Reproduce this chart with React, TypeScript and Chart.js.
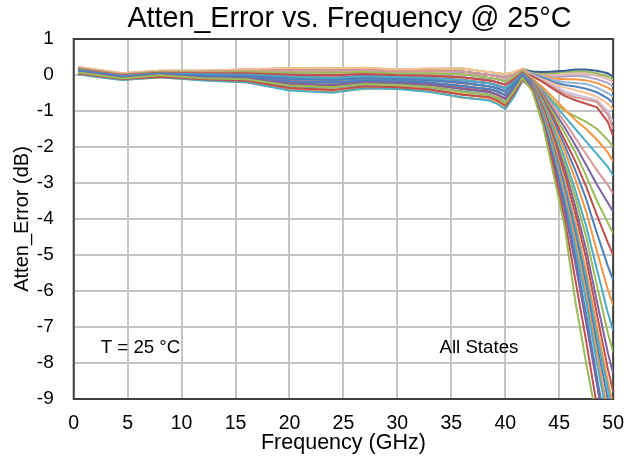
import React, { useEffect, useRef } from "react";
import { Chart, registerables } from "chart.js";

Chart.register(...registerables);

const titleText = "Atten_Error vs. Frequency @ 25°C";
const xTitle = "Frequency (GHz)";
const yTitle = "Atten_Error (dB)";
const tempNote = "T = 25 °C";
const statesNote = "All States";

const freqGHz = [0.4, 2, 4.5, 8, 12, 16, 20, 24, 27, 30, 33, 36, 38.5, 39.3, 40, 40.8, 41.6, 42.5, 43.5, 44.5, 45.5, 46.5, 47.5, 48.5, 49.5, 50];

const state01 = [0.07, 0.01, -0.10, -0.01, -0.09, -0.12, -0.29, -0.34, -0.25, -0.28, -0.33, -0.47, -0.55, -0.65, -0.78, -0.45, -0.08, -0.45, -1.4, -2.8, -4.2, -6.3, -8.0, -9.6, -11.5, -12.5];
const state02 = [0.04, -0.02, -0.11, -0.05, -0.12, -0.16, -0.36, -0.42, -0.31, -0.34, -0.40, -0.55, -0.61, -0.71, -0.86, -0.52, -0.13, -0.4, -1.35, -2.6, -4.0, -5.7, -7.4, -9.2, -11.0, -12.0];
const state03 = [0.08, 0.03, -0.08, 0.01, -0.07, -0.09, -0.23, -0.28, -0.21, -0.22, -0.26, -0.39, -0.47, -0.54, -0.67, -0.41, -0.05, -0.38, -1.3, -2.45, -3.75, -5.25, -6.9, -8.6, -10.4, -11.3];
const state04 = [0.10, 0.05, -0.06, 0.02, -0.04, -0.07, -0.18, -0.20, -0.15, -0.16, -0.21, -0.31, -0.39, -0.45, -0.55, -0.34, -0.02, -0.36, -1.25, -2.35, -3.6, -5.05, -6.65, -8.4, -10.1, -11.0];
const state05 = [0.02, -0.05, -0.14, -0.06, -0.15, -0.20, -0.43, -0.49, -0.37, -0.39, -0.47, -0.62, -0.71, -0.81, -0.95, -0.61, -0.16, -0.35, -1.2, -2.25, -3.45, -4.8, -6.3, -8.0, -9.6, -10.4];
const state06 = [0.05, -0.01, -0.12, -0.03, -0.11, -0.17, -0.37, -0.40, -0.33, -0.32, -0.41, -0.53, -0.63, -0.73, -0.84, -0.54, -0.11, -0.33, -1.15, -2.15, -3.3, -4.6, -6.1, -7.75, -9.35, -10.2];
const state07 = [0.12, 0.06, -0.05, 0.03, -0.01, -0.02, -0.10, -0.14, -0.09, -0.12, -0.14, -0.21, -0.31, -0.38, -0.46, -0.25, 0.01, -0.32, -1.1, -2.05, -3.15, -4.4, -5.85, -7.5, -9.0, -9.8];
const state08 = [0.06, 0.00, -0.11, -0.02, -0.10, -0.14, -0.31, -0.36, -0.27, -0.26, -0.34, -0.46, -0.55, -0.64, -0.77, -0.47, -0.10, -0.3, -1.05, -2.0, -3.05, -4.25, -5.65, -7.25, -8.7, -9.5];
const state09 = [0.03, -0.04, -0.13, -0.07, -0.14, -0.21, -0.41, -0.47, -0.38, -0.37, -0.45, -0.63, -0.69, -0.79, -0.94, -0.59, -0.14, -0.3, -1.0, -1.9, -2.95, -4.1, -5.45, -7.0, -8.5, -9.2];
const state10 = [0.08, 0.02, -0.08, 0.00, -0.06, -0.10, -0.25, -0.29, -0.20, -0.23, -0.27, -0.37, -0.46, -0.56, -0.66, -0.40, -0.05, -0.28, -0.95, -1.8, -2.75, -3.85, -5.1, -6.65, -8.15, -8.8];
const state11 = [0.11, 0.04, -0.06, 0.01, -0.03, -0.06, -0.17, -0.21, -0.16, -0.17, -0.22, -0.30, -0.40, -0.46, -0.57, -0.33, -0.03, -0.25, -0.9, -1.7, -2.6, -3.65, -4.85, -6.3, -7.7, -8.3];
const state12 = [0.04, -0.02, -0.13, -0.04, -0.13, -0.18, -0.35, -0.41, -0.31, -0.33, -0.39, -0.54, -0.62, -0.71, -0.85, -0.53, -0.12, -0.25, -0.85, -1.6, -2.45, -3.4, -4.5, -5.85, -7.15, -7.7];
const state13 = [0.14, 0.07, -0.03, 0.04, 0.02, 0.01, -0.05, -0.08, -0.04, -0.06, -0.09, -0.14, -0.23, -0.29, -0.37, -0.19, 0.04, -0.22, -0.8, -1.5, -2.3, -3.2, -4.2, -5.4, -6.6, -7.1];
const state14 = [0.06, 0.01, -0.10, -0.02, -0.08, -0.13, -0.30, -0.35, -0.26, -0.27, -0.32, -0.45, -0.54, -0.62, -0.75, -0.46, -0.09, -0.2, -0.75, -1.4, -2.1, -2.9, -3.8, -4.9, -5.95, -6.4];
const state15 = [0.12, 0.05, -0.04, 0.03, -0.01, -0.03, -0.11, -0.13, -0.09, -0.11, -0.15, -0.22, -0.31, -0.37, -0.45, -0.26, 0.01, -0.2, -0.7, -1.3, -1.95, -2.65, -3.45, -4.4, -5.3, -5.7];
const state16 = [0.16, 0.09, -0.01, 0.06, 0.05, 0.05, 0.01, -0.01, 0.03, -0.01, -0.02, -0.06, -0.15, -0.21, -0.27, -0.12, 0.07, -0.18, -0.65, -1.2, -1.8, -2.4, -3.1, -3.9, -4.65, -5.0];
const state17 = [0.10, 0.04, -0.07, 0.01, -0.04, -0.06, -0.19, -0.22, -0.15, -0.18, -0.21, -0.31, -0.39, -0.47, -0.56, -0.32, -0.02, -0.15, -0.6, -1.1, -1.6, -2.15, -2.8, -3.5, -4.1, -4.4];
const state18 = [0.14, 0.08, -0.03, 0.05, 0.02, 0.02, -0.06, -0.08, -0.03, -0.07, -0.08, -0.15, -0.23, -0.30, -0.37, -0.19, 0.04, -0.15, -0.55, -1.0, -1.45, -1.95, -2.5, -3.05, -3.55, -3.8];
const state19 = [0.16, 0.09, -0.01, 0.06, 0.05, 0.04, 0.01, -0.02, 0.03, -0.02, -0.02, -0.07, -0.15, -0.21, -0.27, -0.12, 0.07, -0.12, -0.5, -0.9, -1.3, -1.75, -2.2, -2.65, -3.05, -3.3];
const state20 = [0.08, 0.02, -0.09, 0.00, -0.07, -0.11, -0.24, -0.28, -0.19, -0.22, -0.28, -0.38, -0.47, -0.55, -0.65, -0.40, -0.05, -0.12, -0.45, -0.8, -1.15, -1.5, -1.85, -2.2, -2.55, -2.8];
const state21 = [0.12, 0.05, -0.05, 0.03, -0.02, -0.02, -0.12, -0.15, -0.09, -0.11, -0.14, -0.23, -0.32, -0.37, -0.47, -0.26, 0.01, -0.1, -0.35, -0.65, -0.95, -1.25, -1.5, -1.8, -2.15, -2.4];
const state22 = [0.18, 0.11, 0.01, 0.08, 0.07, 0.09, 0.07, 0.06, 0.08, 0.04, 0.05, 0.02, -0.08, -0.12, -0.17, -0.06, 0.11, -0.1, -0.4, -0.75, -1.0, -1.15, -1.3, -1.5, -1.8, -2.0];
const state23 = [0.14, 0.07, -0.03, 0.05, 0.03, 0.02, -0.05, -0.07, -0.03, -0.06, -0.08, -0.13, -0.22, -0.29, -0.36, -0.18, 0.04, -0.03, -0.2, -0.4, -0.58, -0.7, -0.8, -0.9, -1.3, -1.7];
const state24 = [0.20, 0.13, 0.03, 0.10, 0.10, 0.12, 0.13, 0.12, 0.14, 0.10, 0.12, 0.10, 0.00, -0.04, -0.08, 0.01, 0.14, -0.02, -0.18, -0.35, -0.52, -0.62, -0.68, -0.75, -1.1, -1.5];
const state25 = [0.18, 0.11, 0.01, 0.08, 0.08, 0.09, 0.07, 0.07, 0.08, 0.05, 0.05, 0.02, -0.08, -0.12, -0.16, -0.06, 0.11, 0.0, -0.15, -0.3, -0.45, -0.55, -0.62, -0.7, -1.0, -1.3];
const state26 = [0.22, 0.15, 0.05, 0.12, 0.12, 0.16, 0.19, 0.19, 0.20, 0.15, 0.18, 0.18, 0.08, 0.05, 0.02, 0.08, 0.17, 0.0, -0.12, -0.25, -0.35, -0.42, -0.5, -0.6, -0.8, -0.95];
const state27 = [0.16, 0.09, -0.01, 0.06, 0.05, 0.05, 0.02, -0.01, 0.02, -0.01, -0.02, -0.06, -0.14, -0.20, -0.26, -0.12, 0.07, 0.02, -0.08, -0.2, -0.28, -0.32, -0.38, -0.48, -0.65, -0.78];
const state28 = [0.20, 0.13, 0.03, 0.10, 0.10, 0.12, 0.12, 0.12, 0.13, 0.10, 0.12, 0.10, 0.00, -0.04, -0.08, 0.01, 0.14, 0.04, -0.05, -0.15, -0.2, -0.22, -0.25, -0.35, -0.5, -0.6];
const state29 = [0.18, 0.11, 0.01, 0.08, 0.07, 0.08, 0.07, 0.06, 0.08, 0.04, 0.05, 0.03, -0.08, -0.12, -0.17, -0.06, 0.11, 0.05, -0.03, -0.1, -0.12, -0.12, -0.15, -0.22, -0.35, -0.45];
const state30 = [0.20, 0.13, 0.03, 0.10, 0.10, 0.12, 0.13, 0.12, 0.14, 0.10, 0.12, 0.10, 0.00, -0.04, -0.08, 0.01, 0.14, 0.1, 0.08, 0.1, 0.12, 0.15, 0.15, 0.12, 0.05, -0.05];
const state31 = [0.21, 0.15, 0.05, 0.12, 0.12, 0.15, 0.18, 0.19, 0.19, 0.15, 0.17, 0.18, 0.08, 0.05, 0.02, 0.08, 0.17, 0.1, 0.05, 0.05, 0.08, 0.1, 0.1, 0.05, -0.05, -0.12];
const state32 = [0.22, 0.15, 0.05, 0.12, 0.12, 0.16, 0.19, 0.19, 0.20, 0.15, 0.18, 0.18, 0.08, 0.05, 0.02, 0.08, 0.17, 0.08, 0.02, 0.0, 0.02, 0.05, 0.04, -0.02, -0.12, -0.2];
const state33 = [0.19, 0.13, 0.03, 0.10, 0.11, 0.12, 0.13, 0.13, 0.14, 0.10, 0.11, 0.10, 0.01, -0.04, -0.07, 0.01, 0.14, 0.06, 0.0, -0.05, -0.05, -0.02, -0.05, -0.12, -0.22, -0.32];

const stateSeries = [
  state01, state02, state03, state04, state05, state06, state07, state08, state09, state10, state11,
  state12, state13, state14, state15, state16, state17, state18, state19, state20, state21, state22,
  state23, state24, state25, state26, state27, state28, state29, state30, state31, state32, state33,
];

const stateColors = [
  "#9BBB59", "#C0504D", "#8064A2", "#4F81BD", "#4BACC6", "#F79646", "#4F81BD", "#4BACC6", "#F79646",
  "#C0504D", "#8064A2", "#9BBB59", "#4BACC6", "#F79646", "#4F81BD", "#C0504D", "#9BBB59", "#8064A2",
  "#D99694", "#4BACC6", "#F79646", "#9BBB59", "#C0504D", "#D99694", "#CCC1DA", "#FAC090", "#4F81BD",
  "#95B3D7", "#F79646", "#376092", "#9BBB59", "#E6B9B8", "#B3A2C7",
];

const FONT = '"Liberation Sans", Arial, sans-serif';

const overlayPlugin = {
  id: "overlayPlugin",
  beforeDatasetsDraw(chart: any) {
    const { ctx, chartArea: a } = chart;
    ctx.save();
    ctx.strokeStyle = "#404040";
    ctx.lineWidth = 2;
    ctx.strokeRect(a.left, a.top, a.right - a.left, a.bottom - a.top);
    ctx.restore();
  },
  afterDraw(chart: any) {
    const { ctx, chartArea: a } = chart;
    const xs = chart.scales.x;
    const ys = chart.scales.y;
    ctx.save();
    ctx.fillStyle = "#000000";
    ctx.textBaseline = "middle";
    ctx.textAlign = "center";
    ctx.font = `28.7px ${FONT}`;
    ctx.fillText(titleText, (a.left + a.right) / 2 + 6, 19.5);
    ctx.textAlign = "left";
    ctx.font = `18.7px ${FONT}`;
    ctx.fillText(tempNote, xs.getPixelForValue(2.5), ys.getPixelForValue(-7.57));
    ctx.fillText(statesNote, xs.getPixelForValue(33.9), ys.getPixelForValue(-7.57));
    ctx.restore();
  },
};

export default function App() {
  const canvasRef = useRef<HTMLCanvasElement | null>(null);

  useEffect(() => {
    if (!canvasRef.current) return;
    const datasets = stateSeries.map((vals, i) => ({
      label: `State ${i + 1}`,
      data: vals.map((v, j) => ({ x: freqGHz[j], y: v })),
      borderColor: stateColors[i],
      backgroundColor: stateColors[i],
      borderWidth: 2,
      pointRadius: 0,
      tension: 0,
      fill: false,
    }));
    const chart = new Chart(canvasRef.current, {
      type: "line",
      data: { datasets },
      options: {
        animation: false,
        responsive: false,
        devicePixelRatio: 1,
        layout: { padding: { top: 39, right: 11.5, bottom: 0, left: 0 } },
        plugins: { legend: { display: false }, tooltip: { enabled: false }, title: { display: false } },
        scales: {
          x: {
            type: "linear",
            min: 0,
            max: 50,
            afterFit: (s: any) => { s.height = 62; },
            ticks: { stepSize: 5, color: "#000", font: { family: FONT, size: 19.5 }, padding: 13, maxRotation: 0 },
            grid: { color: "#C4C4C4", lineWidth: 2, drawTicks: false },
            border: { display: false },
            title: { display: true, text: xTitle, color: "#000", font: { family: FONT, size: 21.5 }, padding: { top: 0, bottom: 5 } },
          },
          y: {
            type: "linear",
            min: -9,
            max: 1,
            afterFit: (s: any) => { s.width = 73.7; },
            ticks: { stepSize: 1, color: "#000", font: { family: FONT, size: 19 }, padding: 20 },
            grid: { color: "#C4C4C4", lineWidth: 2, drawTicks: false },
            border: { display: false },
            title: { display: true, text: yTitle, color: "#000", font: { family: FONT, size: 20 }, padding: { top: 10, bottom: 0 } },
          },
        },
      },
      plugins: [overlayPlugin],
    });
    return () => chart.destroy();
  }, []);

  return (
    <div style={{ position: "fixed", left: 0, top: 0, width: 637, height: 461, background: "#fff" }}>
      <canvas ref={canvasRef} width={637} height={461} style={{ display: "block" }} />
    </div>
  );
}
